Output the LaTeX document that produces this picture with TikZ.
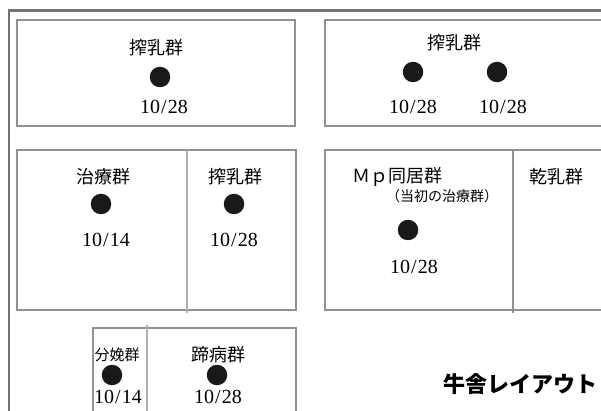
\documentclass[tikz,border=0pt]{standalone}
\usepackage{fontspec}
\setmainfont{Liberation Serif}
\newfontfamily\cjk{Noto Sans CJK JP}
\definecolor{wallgray}{RGB}{115,115,115}
\definecolor{framegray}{RGB}{145,145,148}
\definecolor{divgray}{RGB}{175,175,175}
\tikzset{
  wallline/.style={draw=wallgray, line width=2.2pt},
  room/.style={draw=framegray, line width=2.8pt},
  divider/.style={draw=divgray, line width=1.1pt},
  cow/.style={circle, fill=black!90, minimum size=20.5pt, inner sep=0pt},
  grp/.style={font=\cjk\fontsize{18}{18}\selectfont, inner sep=0pt},
  smallgrp/.style={font=\cjk\fontsize{14}{14}\selectfont, inner sep=0pt},
  date/.style={font=\fontsize{20}{20}\selectfont, inner sep=0pt},
  title/.style={font=\cjk\bfseries\fontsize{22}{22}\selectfont, inner sep=0pt},
}
\newcommand{\dt}[2]{#1\kern1pt/\kern1pt#2}
\begin{document}
\begin{tikzpicture}[x=1pt,y=-1pt]
\clip (0,0) rectangle (601,411);
\fill[white] (0,0) rectangle (601,411);
% outer wall
\coordinate (wb) at (9,420);
\coordinate (wc) at (9,10.5);
\coordinate (wr) at (610,10.5);
\draw[wallline] (wb) -- (wc) -- (wr);
% rooms
\draw[room] (17,20) rectangle (295,126);
\draw[room] (325,20) rectangle (620,126);
\draw[room] (17,150) rectangle (296,310);
\draw[room] (325,150) rectangle (620,310);
\draw[room] (93,328) rectangle (296,430);
% dividers
\coordinate (d1t) at (187,150); \coordinate (d1b) at (187,313);
\coordinate (d2t) at (513,150); \coordinate (d2b) at (513,313);
\coordinate (d3t) at (147,325); \coordinate (d3b) at (147,420);
\draw[divider] (d1t) -- (d1b);
\draw[divider, draw=framegray] (d2t) -- (d2b);
\draw[divider] (d3t) -- (d3b);
% room 1
\node[grp] (g1) at (156,48) {搾乳群};
\node[cow] (c1) at (160,77) {};
\node[date] (t1) at (164,107) {\dt{10}{28}};
% room 2
\node[grp] (g2) at (454,43) {搾乳群};
\node[cow] (c2a) at (413,72) {};
\node[cow] (c2b) at (497,72) {};
\node[date] (t2a) at (413,107) {\dt{10}{28}};
\node[date] (t2b) at (503,107) {\dt{10}{28}};
% room 3
\node[grp] (g3a) at (103,177) {治療群};
\node[cow] (c3a) at (101,204) {};
\node[date] (t3a) at (106,240) {\dt{10}{14}};
\node[grp] (g3b) at (235,177) {搾乳群};
\node[cow] (c3b) at (234,204) {};
\node[date] (t3b) at (234,240) {\dt{10}{28}};
% room 4
\node[grp] (g4a) at (397,177) {Ｍｐ同居群};
\node[smallgrp] (g4s) at (442,196) {（当初の治療群）};
\node[cow] (c4) at (408,230) {};
\node[date] (t4) at (414,267) {\dt{10}{28}};
\node[grp] (g4b) at (556,177) {乾乳群};
% room 5
\node[smallgrp, font=\cjk\fontsize{15}{15}\selectfont] (g5a) at (117,355) {分娩群};
\node[cow] (c5a) at (112,375) {};
\node[date] (t5a) at (118,397) {\dt{10}{14}};
\node[grp] (g5b) at (218,355) {蹄病群};
\node[cow] (c5b) at (217,375) {};
\node[date] (t5b) at (218,397) {\dt{10}{28}};
% title
\node[title] (ttl) at (520,384) {牛舎レイアウト};
\end{tikzpicture}
\end{document}
